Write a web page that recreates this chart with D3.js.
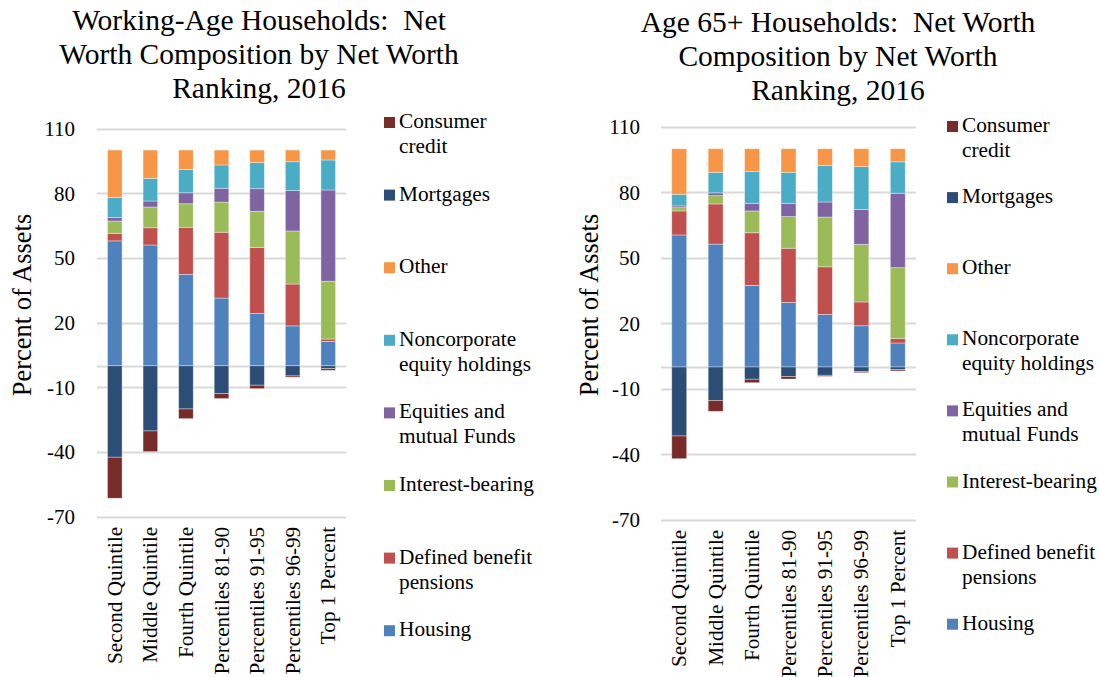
<!DOCTYPE html>
<html>
<head>
<meta charset="utf-8">
<script src="https://cdn.jsdelivr.net/npm/d3@7"></script>
<style>
  html, body { margin: 0; padding: 0; background: #fff; }
  svg { display: block; font-family: "Liberation Serif", "Times New Roman", serif; }
  text { white-space: pre; }
</style>
</head>
<body>
<svg id="chart" width="1099" height="677"></svg>
<script>
// Net worth rankings (x categories)
const categories = ["Second Quintile", "Middle Quintile", "Fourth Quintile", "Percentiles 81-90",
  "Percentiles 91-95", "Percentiles 96-99", "Top 1 Percent"];

// Y axis ticks
const yTicks = [-70, -40, -10, 20, 50, 80, 110];

// Series, bottom-up for assets; debts stack downward from zero
const assetSeries = ["Housing", "Defined benefit pensions", "Interest-bearing",
  "Equities and mutual Funds", "Noncorporate equity holdings", "Other"];
const debtSeries = ["Mortgages", "Consumer credit"];

// Legend order (top to bottom)
const legendOrder = ["Consumer credit", "Mortgages", "Other", "Noncorporate equity holdings",
  "Equities and mutual Funds", "Interest-bearing", "Defined benefit pensions", "Housing"];
const legendLines = {
  "Consumer credit": ["Consumer", "credit"],
  "Mortgages": ["Mortgages"],
  "Other": ["Other"],
  "Noncorporate equity holdings": ["Noncorporate", "equity holdings"],
  "Equities and mutual Funds": ["Equities and", "mutual Funds"],
  "Interest-bearing": ["Interest-bearing"],
  "Defined benefit pensions": ["Defined benefit", "pensions"],
  "Housing": ["Housing"]
};

const seriesColors = {
  "Housing": "#4f81bd",
  "Defined benefit pensions": "#c0504d",
  "Interest-bearing": "#9bbb59",
  "Equities and mutual Funds": "#8064a2",
  "Noncorporate equity holdings": "#4bacc6",
  "Other": "#f79646",
  "Mortgages": "#2c4d75",
  "Consumer credit": "#772c2a"
};

// Working-age households, percent of assets
const waHousing   = [57.9, 56.0, 42.4, 31.4, 24.3, 18.5, 11.3];
const waPensions  = [3.5, 8.0, 21.8, 30.5, 30.5, 19.4, 1.1];
const waInterest  = [5.7, 9.6, 10.9, 14.0, 16.8, 24.6, 26.8];
const waEquities  = [1.7, 2.8, 5.1, 6.4, 10.5, 18.7, 42.3];
const waNoncorp   = [9.3, 10.5, 10.8, 10.8, 12.1, 13.4, 13.9];
const waOther     = [21.9, 13.1, 9.0, 6.9, 5.8, 5.4, 4.6];
const waMortgages = [-42.4, -30.2, -20.0, -12.9, -9.0, -4.7, -1.3];
const waConsumer  = [-19.0, -9.6, -4.5, -2.3, -1.6, -0.6, -0.8];

// Age 65+ households, percent of assets
const srHousing   = [60.5, 56.3, 37.4, 29.6, 24.1, 18.9, 11.0];
const srPensions  = [11.0, 18.4, 24.1, 24.8, 21.8, 10.9, 2.1];
const srInterest  = [1.5, 3.8, 10.0, 14.5, 22.8, 26.4, 32.4];
const srEquities  = [0.8, 1.3, 3.5, 6.1, 6.9, 16.0, 34.1];
const srNoncorp   = [5.3, 9.4, 14.5, 14.2, 16.8, 19.6, 14.4];
const srOther     = [20.9, 10.8, 10.5, 10.8, 7.6, 8.2, 6.0];
const srMortgages = [-31.6, -15.3, -5.6, -4.4, -3.8, -2.1, -1.2];
const srConsumer  = [-10.4, -5.0, -1.6, -1.1, -0.5, -0.5, -0.6];

const panels = [
  {
    title: ["Working-Age Households:  Net", "Worth Composition by Net Worth", "Ranking, 2016"],
    titleX: 259, titleY: 30,
    x0: 97, x1: 346, yTop: 128.5, yBottom: 516.8,
    tickX: 75, axisTitleX: 31,
    legendX: 384, legendY: 128, legendStep: 72.6,
    values: {
      "Housing": waHousing, "Defined benefit pensions": waPensions, "Interest-bearing": waInterest,
      "Equities and mutual Funds": waEquities, "Noncorporate equity holdings": waNoncorp,
      "Other": waOther, "Mortgages": waMortgages, "Consumer credit": waConsumer
    }
  },
  {
    title: ["Age 65+ Households:  Net Worth", "Composition by Net Worth", "Ranking, 2016"],
    titleX: 838, titleY: 32,
    x0: 661, x1: 916, yTop: 126.9, yBottom: 519.8,
    tickX: 640, axisTitleX: 598,
    legendX: 947, legendY: 132, legendStep: 71.1,
    values: {
      "Housing": srHousing, "Defined benefit pensions": srPensions, "Interest-bearing": srInterest,
      "Equities and mutual Funds": srEquities, "Noncorporate equity holdings": srNoncorp,
      "Other": srOther, "Mortgages": srMortgages, "Consumer credit": srConsumer
    }
  }
];

const svg = d3.select("#chart");

panels.forEach(p => {
  const g = svg.append("g");

  const x = d3.scaleBand().domain(categories).range([p.x0, p.x1]).paddingInner(0.59).paddingOuter(0.295);
  const y = d3.scaleLinear().domain([-70, 110]).range([p.yBottom, p.yTop]);

  // Title
  g.append("text")
    .attr("text-anchor", "middle")
    .attr("font-size", 29.5)
    .attr("fill", "#000")
    .selectAll("tspan")
    .data(p.title)
    .join("tspan")
    .attr("x", p.titleX)
    .attr("y", (d, i) => p.titleY + i * 33.8)
    .text(d => d);

  // Gridlines
  g.append("g")
    .selectAll("line")
    .data(yTicks)
    .join("line")
    .attr("x1", p.x0).attr("x2", p.x1)
    .attr("y1", d => Math.round(y(d)) + 0.5).attr("y2", d => Math.round(y(d)) + 0.5)
    .attr("stroke", "#d9d9d9").attr("stroke-width", 2);

  // Y tick labels
  g.append("g")
    .selectAll("text")
    .data(yTicks)
    .join("text")
    .attr("x", p.tickX)
    .attr("y", d => y(d))
    .attr("dy", "0.35em")
    .attr("text-anchor", "end")
    .attr("font-size", 21)
    .text(d => d);

  // Y axis title
  g.append("text")
    .attr("transform", `translate(${p.axisTitleX},${305}) rotate(-90)`)
    .attr("text-anchor", "middle")
    .attr("font-size", 26.5)
    .text("Percent of Assets");

  // Build stacked segments
  const segs = [];
  categories.forEach((c, i) => {
    let pos = 0;
    assetSeries.forEach(s => {
      const v = p.values[s][i];
      segs.push({ cat: c, series: s, y0: pos, y1: pos + v });
      pos += v;
    });
    let neg = 0;
    debtSeries.forEach(s => {
      const v = p.values[s][i];
      segs.push({ cat: c, series: s, y0: neg, y1: neg + v });
      neg += v;
    });
  });

  // Zero line
  g.append("line")
    .attr("x1", p.x0).attr("x2", p.x1)
    .attr("y1", Math.round(y(0)) + 0.5).attr("y2", Math.round(y(0)) + 0.5)
    .attr("stroke", "#d9d9d9").attr("stroke-width", 2);

  g.append("g")
    .selectAll("rect")
    .data(segs)
    .join("rect")
    .attr("x", d => x(d.cat))
    .attr("width", x.bandwidth())
    .attr("y", d => y(Math.max(d.y0, d.y1)))
    .attr("height", d => Math.abs(y(d.y0) - y(d.y1)))
    .attr("fill", d => seriesColors[d.series])
    .attr("stroke", "rgba(255,255,255,0.45)")
    .attr("stroke-width", 0.8);

  // X category labels, rotated
  g.append("g")
    .selectAll("text")
    .data(categories)
    .join("text")
    .attr("transform", d => `translate(${x(d) + x.bandwidth() / 2 + 7},${p.yBottom + 10}) rotate(-90)`)
    .attr("text-anchor", "end")
    .attr("font-size", 21.2)
    .text(d => d);

  // Legend
  const lg = g.append("g");
  legendOrder.forEach((s, i) => {
    const by = p.legendY + i * p.legendStep;
    lg.append("rect")
      .attr("x", p.legendX).attr("y", by - 11)
      .attr("width", 11).attr("height", 11)
      .attr("fill", seriesColors[s]);
    lg.append("text")
      .attr("font-size", 21.3)
      .selectAll("tspan")
      .data(legendLines[s])
      .join("tspan")
      .attr("x", p.legendX + 15)
      .attr("y", (d, j) => by + j * 25)
      .text(d => d);
  });
});
</script>
</body>
</html>
